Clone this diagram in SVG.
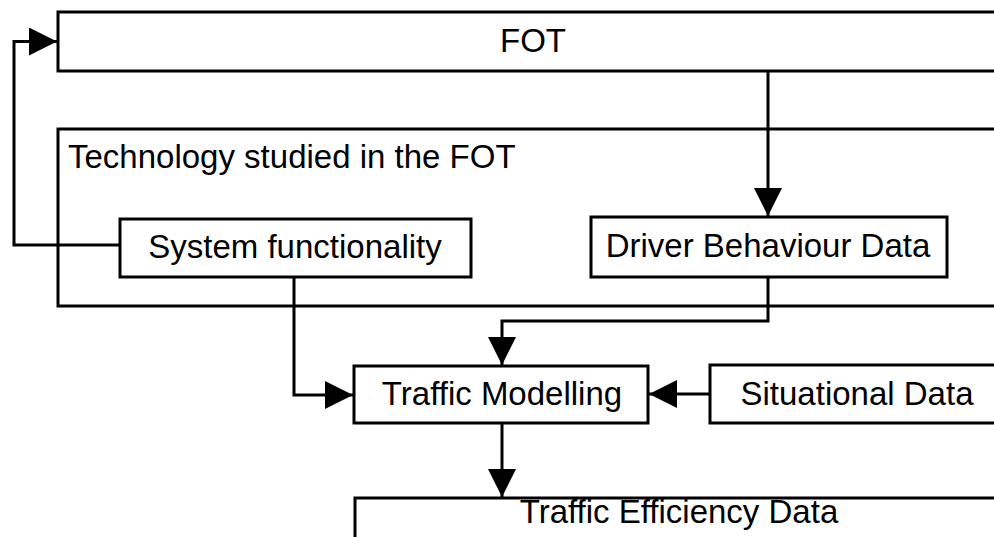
<svg xmlns="http://www.w3.org/2000/svg" width="994" height="537" viewBox="0 0 994 537">
<style>
.box{fill:#fff;stroke:#000;stroke-width:3}
.frame{fill:none;stroke:#000;stroke-width:3}
.lbl{font-family:"Liberation Sans",Arial,sans-serif;font-size:33px;fill:#000}
.c{text-anchor:middle}
.ln{fill:none;stroke:#000;stroke-width:3}
</style>
<defs>
<marker id="ah" markerUnits="userSpaceOnUse" markerWidth="28" markerHeight="28" refX="28" refY="14" orient="auto">
<path d="M0,0 L28,14 L0,28 Z" fill="#000"/>
</marker>
</defs>
<rect width="994" height="537" fill="#fff"/>
<g id="fot">
<rect class="box" x="58" y="12" width="960" height="59"/>
<text class="lbl c" x="533" y="52">FOT</text>
</g>
<g id="technology">
<rect class="frame" x="58" y="129" width="960" height="177"/>
<text class="lbl" x="68" y="168">Technology studied in the FOT</text>
</g>
<g id="system-functionality">
<rect class="box" x="120" y="219" width="351" height="58"/>
<text class="lbl c" x="295" y="258">System functionality</text>
</g>
<g id="driver-behaviour-data">
<rect class="box" x="591" y="217" width="356" height="60"/>
<text class="lbl c" x="768" y="257">Driver Behaviour Data</text>
</g>
<g id="traffic-modelling">
<rect class="box" x="354" y="366" width="294" height="57"/>
<text class="lbl c" x="502" y="405">Traffic Modelling</text>
</g>
<g id="situational-data">
<rect class="box" x="710" y="365" width="310" height="58"/>
<text class="lbl c" x="857" y="405">Situational Data</text>
</g>
<g id="traffic-efficiency-data">
<rect class="box" x="355" y="498" width="665" height="60"/>
<text class="lbl c" x="679" y="523">Traffic Efficiency Data</text>
</g>
<g id="connectors">
<path class="ln" d="M120,245 H14 V41.5 H57" marker-end="url(#ah)"/>
<path class="ln" d="M768,71 V216" marker-end="url(#ah)"/>
<path class="ln" d="M768,277 V321 H502 V365" marker-end="url(#ah)"/>
<path class="ln" d="M294,277 V395 H353" marker-end="url(#ah)"/>
<path class="ln" d="M710,394 H649" marker-end="url(#ah)"/>
<path class="ln" d="M502,423 V497" marker-end="url(#ah)"/>
</g>
</svg>
